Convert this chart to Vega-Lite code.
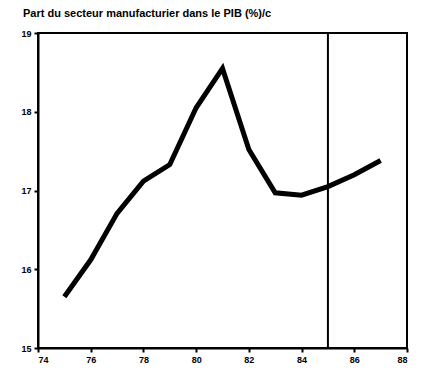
{
  "$schema": "https://vega.github.io/schema/vega-lite/v6.json",
  "autosize": "none",
  "padding": {"left": 38, "top": 33, "right": 14, "bottom": 23},
  "width": 369,
  "height": 315,
  "background": "white",
  "title": {
    "text": "Part du secteur manufacturier dans le PIB (%)/c",
    "anchor": "start",
    "font": "Liberation Sans",
    "fontSize": 11,
    "fontWeight": "bold",
    "color": "black",
    "offset": 10,
    "dx": 2
  },
  "config": {
    "view": {"stroke": "black", "strokeWidth": 2},
    "axis": {
      "grid": false,
      "domainColor": "black",
      "domainWidth": 2,
      "tickColor": "black",
      "tickWidth": 2,
      "tickSize": 4,
      "labelColor": "black",
      "labelFont": "Liberation Sans",
      "labelFontWeight": "bold",
      "labelFontSize": 9,
      "title": null
    }
  },
  "datasets": {
    "series": [
      {"year": 75, "value": 15.65},
      {"year": 76, "value": 16.12},
      {"year": 77, "value": 16.71},
      {"year": 78, "value": 17.12},
      {"year": 79, "value": 17.33},
      {"year": 80, "value": 18.05},
      {"year": 81, "value": 18.55},
      {"year": 82, "value": 17.52},
      {"year": 83, "value": 16.97},
      {"year": 84, "value": 16.94},
      {"year": 85, "value": 17.05},
      {"year": 86, "value": 17.2},
      {"year": 87, "value": 17.38}
    ],
    "marker": [{"year": 85}]
  },
  "layer": [
    {
      "data": {"name": "series"},
      "mark": {"type": "line", "color": "black", "strokeWidth": 5, "strokeJoin": "miter"},
      "encoding": {
        "x": {"field": "year", "type": "quantitative", "scale": {"domain": [74, 88], "nice": false, "zero": false},
              "axis": {"values": [74, 76, 78, 80, 82, 84, 86, 88], "labelPadding": 3}},
        "y": {"field": "value", "type": "quantitative", "scale": {"domain": [15, 19], "nice": false, "zero": false},
              "axis": {"values": [15, 16, 17, 18, 19], "labelPadding": 3}}
      }
    },
    {
      "data": {"name": "marker"},
      "mark": {"type": "rule", "color": "black", "strokeWidth": 2},
      "encoding": {
        "x": {"field": "year", "type": "quantitative"}
      }
    }
  ]
}
